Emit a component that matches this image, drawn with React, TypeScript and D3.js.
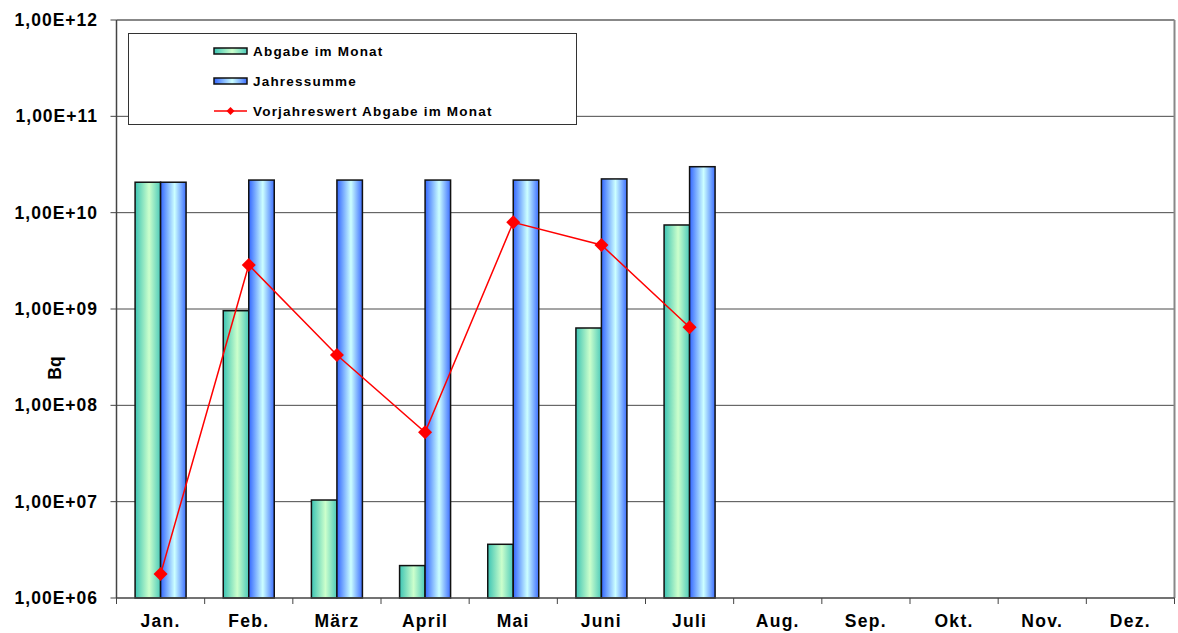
import React from "react";
import * as d3 from "d3";

const months = ["Jan.", "Feb.", "März", "April", "Mai", "Juni", "Juli", "Aug.", "Sep.", "Okt.", "Nov.", "Dez."];
const abgabeImMonat = [2.07e10, 9.6e8, 1.04e7, 2.17e6, 3.61e6, 6.35e8, 7.45e9];
const jahressumme = [2.07e10, 2.18e10, 2.18e10, 2.18e10, 2.18e10, 2.24e10, 3.0e10];
const vorjahreswert = [1.77e6, 2.86e9, 3.33e8, 5.25e7, 7.94e9, 4.62e9, 6.46e8];
const yTicks = [1e6, 1e7, 1e8, 1e9, 1e10, 1e11, 1e12];
const seriesNames = ["Abgabe im Monat", "Jahressumme", "Vorjahreswert Abgabe im Monat"];

const W = 1178, H = 633;
const left = 116.5, right = 1174.5, top = 20, bottom = 598;

function fmt(v: number) {
  const e = Math.round(Math.log10(v));
  return "1,00E+" + (e < 10 ? "0" + e : String(e));
}

export default function App() {
  const x = d3.scaleBand<string>().domain(months).range([left, right]).paddingInner(0).paddingOuter(0);
  const sub = d3.scaleBand<string>().domain(["a", "b"]).range([0, x.bandwidth()]).paddingInner(0).paddingOuter(0.729);
  const y = d3.scaleLog().domain([1e6, 1e12]).range([bottom, top]);
  const line = d3.line<number>().x((_, i) => x(months[i])! + x.bandwidth() / 2).y((d) => y(d));
  const font = "'Liberation Sans', Arial, sans-serif";
  const diamond = (cx: number, cy: number, r: number) => `M${cx},${cy - r}L${cx + r},${cy}L${cx},${cy + r}L${cx - r},${cy}Z`;

  return (
    <svg width={W} height={H} style={{ position: "absolute", left: 0, top: 0, background: "#fff" }} fontFamily={font}>
      <defs>
        <linearGradient id="gGreen" x1="0" x2="1" y1="0" y2="0">
          <stop offset="0" stopColor="#3CC4B4" />
          <stop offset="0.55" stopColor="#CCFFCC" />
          <stop offset="1" stopColor="#4CCABA" />
        </linearGradient>
        <linearGradient id="gBlue" x1="0" x2="1" y1="0" y2="0">
          <stop offset="0" stopColor="#3366FF" />
          <stop offset="0.55" stopColor="#CCFFFF" />
          <stop offset="1" stopColor="#3D6EFF" />
        </linearGradient>
      </defs>
      <rect x={0} y={0} width={W} height={H} fill="#fff" />
      {yTicks.slice(1, -1).map((t) => (
        <line key={t} x1={left} x2={right} y1={y(t)} y2={y(t)} stroke="#4a4a4a" strokeWidth={1} />
      ))}
      <line x1={left} x2={right} y1={top} y2={top} stroke="#888" strokeWidth={2} />
      <line x1={right} x2={right} y1={top} y2={bottom} stroke="#888" strokeWidth={2} />
      {abgabeImMonat.map((v, i) => (
        <rect key={"a" + i} x={x(months[i])! + sub("a")!} y={y(v)} width={sub.bandwidth()} height={bottom - y(v)}
          fill="url(#gGreen)" stroke="#111" strokeWidth={1.5} />
      ))}
      {jahressumme.map((v, i) => (
        <rect key={"b" + i} x={x(months[i])! + sub("b")!} y={y(v)} width={sub.bandwidth()} height={bottom - y(v)}
          fill="url(#gBlue)" stroke="#111" strokeWidth={1.5} />
      ))}
      <path d={line(vorjahreswert) || ""} fill="none" stroke="#FF0000" strokeWidth={1.5} />
      {vorjahreswert.map((v, i) => (
        <path key={"m" + i} d={diamond(x(months[i])! + x.bandwidth() / 2, y(v), 7)} fill="#FF0000" />
      ))}
      <line x1={left} x2={left} y1={top} y2={bottom} stroke="#444" strokeWidth={1.5} />
      <line x1={left} x2={right} y1={bottom} y2={bottom} stroke="#444" strokeWidth={1.5} />
      {yTicks.map((t) => (
        <g key={"yt" + t}>
          <line x1={left - 6} x2={left} y1={y(t)} y2={y(t)} stroke="#444" strokeWidth={1} />
          <text x={98} y={y(t) + 6} textAnchor="end" fontSize={17.5} fontWeight="bold" letterSpacing={1}>{fmt(t)}</text>
        </g>
      ))}
      {months.map((m) => (
        <g key={"xt" + m}>
          <line x1={x(m)!} x2={x(m)!} y1={bottom} y2={bottom + 6} stroke="#444" strokeWidth={1} />
          <text x={x(m)! + x.bandwidth() / 2} y={627} textAnchor="middle" fontSize={17.5} fontWeight="bold" letterSpacing={1.3}>{m}</text>
        </g>
      ))}
      <line x1={right} x2={right} y1={bottom} y2={bottom + 6} stroke="#444" strokeWidth={1} />
      <text transform="translate(61,368) rotate(-90)" textAnchor="middle" fontSize={17.5} fontWeight="bold">Bq</text>
      <rect x={128.5} y={33.5} width={448} height={91} fill="#fff" stroke="#333" strokeWidth={1} />
      <rect x={214} y={48} width={33} height={6} fill="url(#gGreen)" stroke="#111" strokeWidth={1.5} />
      <text x={253} y={56} fontSize={13.5} fontWeight="bold" letterSpacing={1.2}>{seriesNames[0]}</text>
      <rect x={214} y={78} width={33} height={6} fill="url(#gBlue)" stroke="#111" strokeWidth={1.5} />
      <text x={253} y={86} fontSize={13.5} fontWeight="bold" letterSpacing={1.2}>{seriesNames[1]}</text>
      <line x1={214} x2={247} y1={111} y2={111} stroke="#FF0000" strokeWidth={1.5} />
      <path d={diamond(230.5, 111, 4)} fill="#FF0000" />
      <text x={253} y={116} fontSize={13.5} fontWeight="bold" letterSpacing={1.2}>{seriesNames[2]}</text>
    </svg>
  );
}
